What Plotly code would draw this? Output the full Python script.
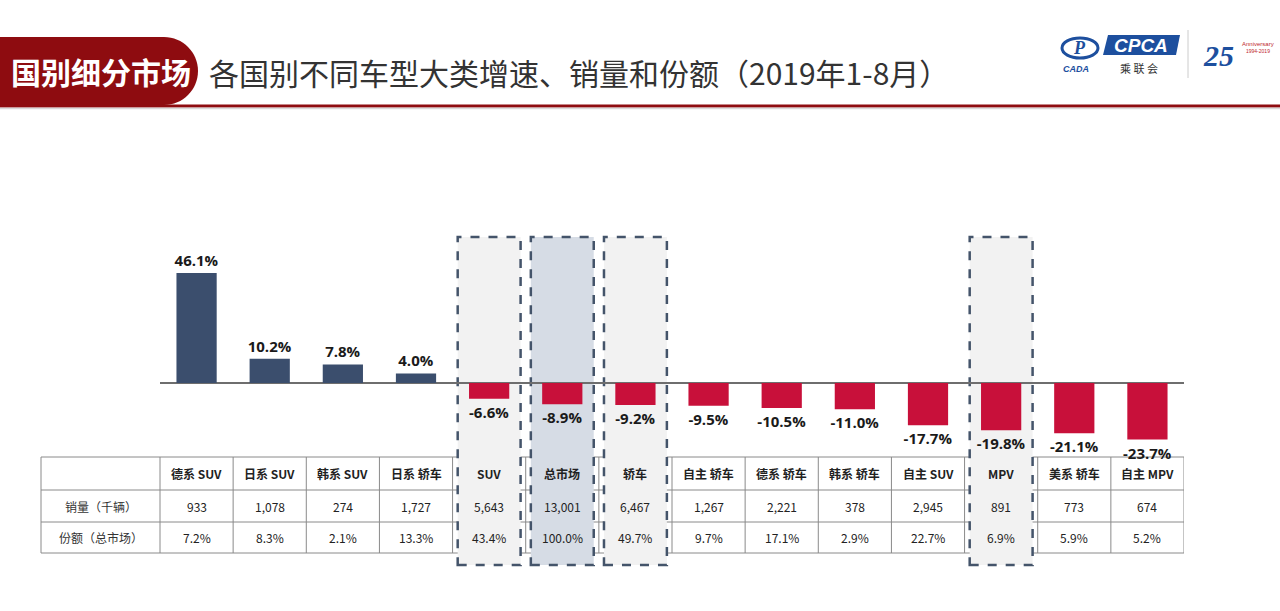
import plotly.graph_objects as go

# ---------------- data ----------------
categories = ["德系 SUV", "日系 SUV", "韩系 SUV", "日系 轿车", "SUV", "总市场", "轿车",
              "自主 轿车", "德系 轿车", "韩系 轿车", "自主 SUV", "MPV", "美系 轿车", "自主 MPV"]
growth = [46.1, 10.2, 7.8, 4.0, -6.6, -8.9, -9.2, -9.5, -10.5, -11.0, -17.7, -19.8, -21.1, -23.7]
sales_k = [933, 1078, 274, 1727, 5643, 13001, 6467, 1267, 2221, 378, 2945, 891, 773, 674]
share_pct = [7.2, 8.3, 2.1, 13.3, 43.4, 100.0, 49.7, 9.7, 17.1, 2.9, 22.7, 6.9, 5.9, 5.2]
row_labels = ["销量（千辆）", "份额（总市场）"]
highlight = ["SUV", "总市场", "轿车", "MPV"]
tab_text = "国别细分市场"
title_text = "各国别不同车型大类增速、销量和份额（2019年1-8月）"

# ---------------- geometry helpers ----------------
W, H = 1280, 611
def px(x):
    return x / W
def py(y):
    return 1 - y / H

BASE_Y = 383.0
PX_PER_UNIT = 2.386
PLOT_TOP, PLOT_BOT = 237, 565
X_LEFT, X_RIGHT = 160, 1184

POS = "#3b4e6d"
NEG = "#c8103a"
DASH = "#44546a"
RED = "#8e0c10"
CJK = "Noto Sans CJK SC"

n = len(categories)
xs = list(range(n))
bar_colors = [POS if v >= 0 else NEG for v in growth]

fig = go.Figure()
fig.add_trace(go.Bar(
    x=xs, y=growth, width=0.55,
    marker=dict(color=bar_colors, line=dict(width=0)),
    text=[f"{v:.1f}%" for v in growth],
    textposition="outside",
    constraintext="none",
    textfont=dict(family="Open Sans", size=15, color="#1a1a1a", weight="bold"),
    cliponaxis=False,
    hoverinfo="skip",
))

shapes = []
annotations = []

def ann(x, y, text, font, xref="paper", yref="paper", xanchor="center"):
    annotations.append(dict(x=x, y=y, xref=xref, yref=yref, text=text, showarrow=False,
                            xanchor=xanchor, yanchor="middle", font=font))

# ---------------- table ----------------
row_lines = [457, 490, 522, 553]
for yl in row_lines:
    shapes.append(dict(type="line", xref="paper", yref="paper",
                       x0=px(41), x1=px(X_RIGHT), y0=py(yl), y1=py(yl),
                       line=dict(color="#8a8a8a", width=1), layer="below"))
for xl in [41, X_LEFT]:
    shapes.append(dict(type="line", xref="paper", yref="paper",
                       x0=px(xl), x1=px(xl), y0=py(457), y1=py(553),
                       line=dict(color="#8a8a8a", width=1), layer="below"))
for i in range(n):
    shapes.append(dict(type="line", xref="x", yref="paper",
                       x0=i + 0.5, x1=i + 0.5, y0=py(457), y1=py(553),
                       line=dict(color="#8a8a8a", width=1), layer="below"))

# highlight dashed boxes (drawn after table lines so fill hides them)
for i, c in enumerate(categories):
    if c in highlight:
        fill = "#d6dce5" if c == "总市场" else "#f2f2f2"
        shapes.append(dict(type="rect", xref="x", yref="paper",
                           x0=i - 0.43, x1=i + 0.43, y0=py(PLOT_BOT), y1=py(PLOT_TOP),
                           fillcolor=fill, line=dict(color=DASH, width=2.5, dash="dash"),
                           layer="below"))

row_centers = [473.5, 506, 537.5]
for i, c in enumerate(categories):
    ann(i, py(row_centers[0]), f"<b>{c}</b>", dict(family=CJK, size=12, color="#222"), xref="x")
    ann(i, py(row_centers[1]), f"{sales_k[i]:,}", dict(family=CJK, size=12, color="#222"), xref="x")
    ann(i, py(row_centers[2]), f"{share_pct[i]:.1f}%", dict(family=CJK, size=12, color="#222"), xref="x")
for j, lab in enumerate(row_labels):
    ann(px(101), py(row_centers[j + 1]), lab, dict(family=CJK, size=12, color="#333"))

# ---------------- header ----------------
r = 34
cx, cy = 164, 71
tab_path = (f"M {px(0)},{py(37)} L {px(cx)},{py(37)} "
            f"C {px(cx + r*0.55)},{py(37)} {px(cx + r)},{py(cy - r*0.55)} {px(cx + r)},{py(cy)} "
            f"C {px(cx + r)},{py(cy + r*0.55)} {px(cx + r*0.55)},{py(105)} {px(cx)},{py(105)} "
            f"L {px(0)},{py(105)} Z")
shapes.append(dict(type="path", xref="paper", yref="paper", path=tab_path,
                   fillcolor=RED, line=dict(width=0), layer="above"))
shapes.append(dict(type="line", xref="paper", yref="paper",
                   x0=px(0), x1=px(1280), y0=py(106), y1=py(106),
                   line=dict(color=RED, width=3), layer="above"))
shapes.append(dict(type="line", xref="paper", yref="paper",
                   x0=px(0), x1=px(1280), y0=py(108.5), y1=py(108.5),
                   line=dict(color="#d9d9d9", width=1.5), layer="above"))
ann(px(101), py(71), f"<b>{tab_text}</b>", dict(family=CJK, size=30, color="white"))
ann(px(207), py(72), title_text, dict(family=CJK, size=30, color="#333333"), xanchor="left")

# ---------------- logo (approximation) ----------------
BLUE = "#1d4f9e"
shapes.append(dict(type="path", xref="paper", yref="paper",
                   path=(f"M {px(1108)},{py(35)} L {px(1180)},{py(35)} L {px(1176)},{py(55)} "
                         f"L {px(1103)},{py(55)} Z"),
                   fillcolor=BLUE, line=dict(width=0), layer="above"))
ann(px(1141), py(45), "<b><i>CPCA</i></b>", dict(family="Liberation Sans", size=19, color="white"))
ann(px(1139), py(68), "乘 联 会", dict(family=CJK, size=11, color="#333"))
shapes.append(dict(type="circle", xref="paper", yref="paper",
                   x0=px(1062), x1=px(1098), y0=py(58), y1=py(38),
                   line=dict(color=BLUE, width=3), fillcolor="rgba(0,0,0,0)", layer="above"))
ann(px(1079), py(48), "<b><i>P</i></b>", dict(family="Liberation Serif", size=18, color=BLUE))
ann(px(1076), py(69), "<b><i>CADA</i></b>", dict(family="Liberation Sans", size=9, color=BLUE))
shapes.append(dict(type="line", xref="paper", yref="paper",
                   x0=px(1188), x1=px(1188), y0=py(30), y1=py(78),
                   line=dict(color="#cccccc", width=1), layer="above"))
ann(px(1218), py(55), "<b><i>25</i></b>", dict(family="Liberation Serif", size=30, color=BLUE))
ann(px(1258), py(44), "Anniversary", dict(family="Liberation Sans", size=6, color="#c0272d"))
ann(px(1258), py(51), "1994-2019", dict(family="Liberation Sans", size=5, color="#c0272d"))

fig.update_layout(
    width=W, height=H,
    margin=dict(l=0, r=0, t=0, b=0),
    paper_bgcolor="white", plot_bgcolor="rgba(0,0,0,0)",
    showlegend=False,
    shapes=shapes, annotations=annotations,
    xaxis=dict(domain=[px(X_LEFT), px(X_RIGHT)], range=[-0.5, n - 0.5],
               showgrid=False, showticklabels=False, zeroline=False, showline=False,
               fixedrange=True),
    yaxis=dict(domain=[py(PLOT_BOT), py(PLOT_TOP)],
               range=[-(PLOT_BOT - BASE_Y) / PX_PER_UNIT, (BASE_Y - PLOT_TOP) / PX_PER_UNIT],
               showgrid=False, showticklabels=False, showline=False,
               zeroline=True, zerolinecolor="#6e6e6e", zerolinewidth=1.5,
               fixedrange=True),
    bargap=0.45,
)

fig.write_html("out.html", config={"displayModeBar": False},
               post_script="document.body.style.margin='0';document.body.style.overflow='hidden';")
